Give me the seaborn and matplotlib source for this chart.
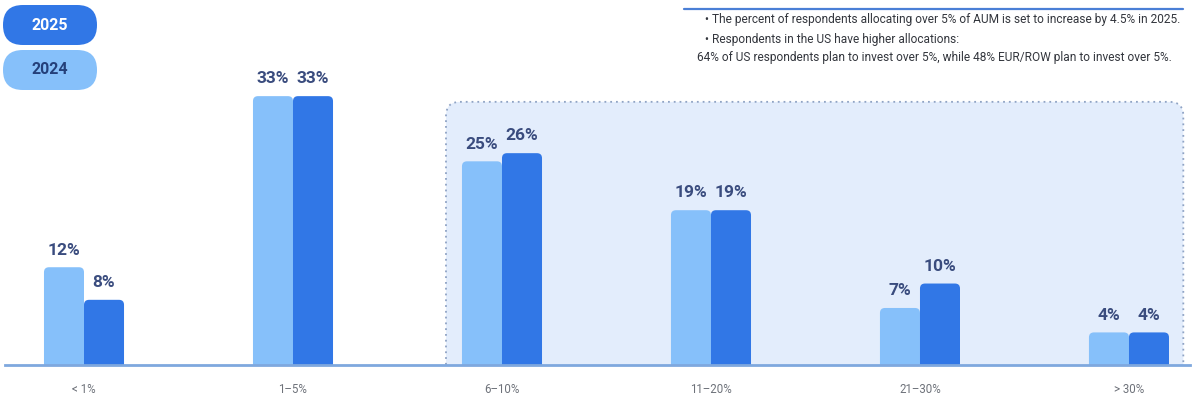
import matplotlib
matplotlib.use("Agg")
import matplotlib.pyplot as plt
import seaborn as sns
import pandas as pd
from matplotlib.patches import FancyBboxPatch

categories = ["< 1%", "1–5%", "6–10%", "11–20%", "21–30%", "> 30%"]
values_2024 = [12, 33, 25, 19, 7, 4]
values_2025 = [8, 33, 26, 19, 10, 4]
years = ["2024", "2025"]
notes = [
    "• The percent of respondents allocating over 5% of AUM is set to increase by 4.5% in 2025.",
    "• Respondents in the US have higher allocations:",
    "64% of US respondents plan to invest over 5%, while 48% EUR/ROW plan to invest over 5%.",
]

LIGHT = "#86C0FA"
DARK = "#3177E6"
NAVY = "#3A4C7E"

df = pd.DataFrame({
    "category": categories * 2,
    "year": [years[0]] * len(categories) + [years[1]] * len(categories),
    "value": values_2024 + values_2025,
})

sns.set_theme(style="white")
plt.rcParams["font.family"] = ["Roboto", "DejaVu Sans"]

W, H = 1200, 401
fig = plt.figure(figsize=(12, 4.01), dpi=100)
ax = fig.add_axes([5 / W, 36 / H, 1185 / W, 365 / H])

XMIN, XMAX, YMAX = -0.378, 5.292, 44.8
px_x = 1185 / (XMAX - XMIN)   # pixels per x unit
px_y = 365 / YMAX             # pixels per y unit
ASPECT = px_x / px_y

# shaded highlight box (behind bars)
box = FancyBboxPatch((1.732, -3), 5.26 - 1.732, 32.3 + 3,
                     boxstyle=f"round,pad=0,rounding_size={14 / px_x}",
                     mutation_aspect=ASPECT,
                     facecolor="#E3EDFC", edgecolor="#8FA3C4", linestyle=(0, (1, 2.2)),
                     linewidth=1.3, zorder=0)
ax.add_patch(box)

sns.barplot(data=df, x="category", y="value", hue="year", order=categories,
            hue_order=years, palette=[LIGHT, DARK], width=0.383, gap=0,
            saturation=1, legend=False, ax=ax, zorder=2, linewidth=0)

# round the bar tops
for cont in ax.containers:
    for bar in cont.patches:
        x0, w, h = bar.get_x(), bar.get_width(), bar.get_height()
        fc = bar.get_facecolor()
        bar.set_visible(False)
        rb = FancyBboxPatch((x0, -2), w, h + 2,
                            boxstyle=f"round,pad=0,rounding_size={5 / px_x}",
                            mutation_aspect=ASPECT, facecolor=fc, edgecolor="none",
                            zorder=2)
        ax.add_patch(rb)

ax.set_xlim(XMIN, XMAX)
ax.set_ylim(0, YMAX)
for s in ["top", "right", "left"]:
    ax.spines[s].set_visible(False)
ax.spines["bottom"].set_color("#7FA8DE")
ax.spines["bottom"].set_linewidth(2)
ax.spines["bottom"].set_zorder(5)
ax.set_yticks([])
ax.set_xlabel("")
ax.set_ylabel("")
ax.tick_params(axis="x", length=0, pad=13, labelsize=8.3, labelcolor="#6E727A")

for cont in ax.containers:
    ax.bar_label(cont, labels=[f"{v:.0f}%" for v in cont.datavalues],
                 padding=7, fontsize=12.5, fontweight="semibold", color=NAVY)

# legend pills
def pill(y0, color, text, tcolor):
    p = FancyBboxPatch((3 / W, 1 - (y0 + 40) / H), 94 / W, 40 / H,
                       boxstyle="round,pad=0,rounding_size=0.0165",
                       mutation_aspect=W / H,
                       transform=fig.transFigure, facecolor=color, edgecolor="none")
    fig.patches.append(p)
    fig.text(50 / W, 1 - (y0 + 20) / H, text, ha="center", va="center",
             fontsize=11.5, fontweight="bold", color=tcolor)

pill(5, DARK, years[1], "white")
pill(50, LIGHT, years[0], "#24407A")

# notes
fig.add_artist(plt.Line2D([684 / W, 1183 / W], [1 - 9 / H, 1 - 9 / H],
                          transform=fig.transFigure, color="#4A7FD6", linewidth=1.6))
ys = [20, 39, 58]
xs = [705, 705, 697]
for t, y, x in zip(notes, ys, xs):
    fig.text(x / W, 1 - y / H, t, ha="left", va="center", fontsize=8.6, color="#33363D")

fig.savefig("out.png", dpi=100)
